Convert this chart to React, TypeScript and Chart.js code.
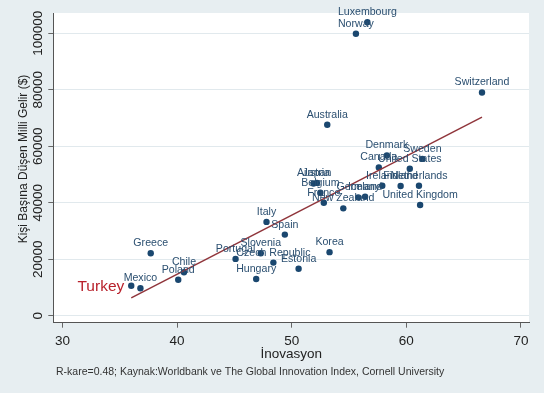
import React, { useEffect, useRef } from 'react';
import { Chart, registerables } from 'chart.js';

Chart.register(...registerables);

const countries = [
  'Luxembourg', 'Norway', 'Switzerland', 'Australia', 'Denmark', 'Sweden', 'Canada', 'United States',
  'Austria', 'Japan', 'Belgium', 'France', 'New Zealand', 'Germany', 'Iceland', 'Ireland', 'Finland',
  'Netherlands', 'United Kingdom', 'Korea', 'Italy', 'Spain', 'Slovenia', 'Czech Republic', 'Estonia',
  'Hungary', 'Portugal', 'Greece', 'Chile', 'Poland', 'Mexico', 'Turkey',
];
const innovation = [
  56.6, 55.6, 66.6, 53.1, 58.3, 61.4, 57.6, 60.3,
  51.9, 52.2, 52.5, 52.8, 54.5, 55.8, 56.4, 57.9, 59.5,
  61.1, 61.2, 53.3, 47.8, 49.4, 47.3, 48.4, 50.6,
  46.9, 45.1, 37.7, 40.6, 40.1, 36.8, 36.0,
];
const gni = [
  103900, 99800, 79000, 67600, 56700, 55500, 52500, 52000,
  46800, 47000, 43500, 40000, 38000, 41900, 42100, 46000, 45900,
  46000, 39200, 22500, 33200, 28700, 22100, 18800, 16600,
  13000, 20100, 22100, 15400, 12700, 9700, 10600,
];
const fitX = [36.0, 66.6];
const fitY = [6300, 70300];
const xTicks = [30, 40, 50, 60, 70];
const yTicks = [0, 20000, 40000, 60000, 80000, 100000];
const xTitle = 'İnovasyon';
const yTitle = 'Kişi Başına Düşen Milli Gelir ($)';
const note = 'R-kare=0.48; Kaynak:Worldbank ve The Global Innovation Index, Cornell University';
const highlight = 'Turkey';

const FONT = '"Liberation Sans", Arial, sans-serif';
const NAVY = '#1a476f';
const MAROON = '#90353b';
const BG = '#e7eef1';

export default function App() {
  const ref = useRef<HTMLCanvasElement>(null);

  useEffect(() => {
    document.body.style.margin = '0';
    const canvas = ref.current;
    if (!canvas) return;

    const custom = {
      id: 'custom',
      beforeDraw(chart: any) {
        const { ctx, chartArea: a } = chart;
        ctx.save();
        ctx.fillStyle = BG;
        ctx.fillRect(0, 0, chart.width, chart.height);
        ctx.fillStyle = '#ffffff';
        ctx.fillRect(a.left, a.top, a.right - a.left, a.bottom - a.top);
        ctx.restore();
      },
      afterDatasetsDraw(chart: any) {
        const { ctx } = chart;
        const xs = chart.scales.x;
        const ys = chart.scales.y;
        ctx.save();
        countries.forEach((c, i) => {
          const px = xs.getPixelForValue(innovation[i]);
          const py = ys.getPixelForValue(gni[i]);
          if (c === highlight) {
            ctx.font = `15.5px ${FONT}`;
            ctx.fillStyle = '#b8212b';
            ctx.textAlign = 'right';
            ctx.textBaseline = 'middle';
            ctx.fillText(c, px - 7, py + 1);
          } else {
            ctx.font = `10.6px ${FONT}`;
            ctx.fillStyle = '#2b4f70';
            ctx.textAlign = 'center';
            ctx.textBaseline = 'middle';
            ctx.fillText(c, px, py - 10);
          }
        });
        ctx.restore();
      },
      afterDraw(chart: any) {
        const { ctx, chartArea: a } = chart;
        const xs = chart.scales.x;
        const ys = chart.scales.y;
        ctx.save();
        ctx.fillStyle = '#222';
        ctx.font = `13.5px ${FONT}`;
        ctx.textAlign = 'center';
        ctx.textBaseline = 'middle';
        xTicks.forEach((v) => {
          ctx.fillText(String(v), xs.getPixelForValue(v), 341.5);
        });
        yTicks.forEach((v) => {
          ctx.save();
          ctx.translate(38.5, ys.getPixelForValue(v));
          ctx.rotate(-Math.PI / 2);
          ctx.fillText(String(v), 0, 0);
          ctx.restore();
        });
        ctx.fillText(xTitle, (a.left + a.right) / 2, 354);
        ctx.save();
        ctx.font = `12px ${FONT}`;
        ctx.translate(23.5, 159);
        ctx.rotate(-Math.PI / 2);
        ctx.fillText(yTitle, 0, 0);
        ctx.restore();
        ctx.font = `10.5px ${FONT}`;
        ctx.fillStyle = '#333';
        ctx.textAlign = 'left';
        ctx.fillText(note, 56, 372);
        ctx.restore();
      },
    };

    const chart = new Chart(canvas, {
      type: 'scatter',
      data: {
        datasets: [
          {
            type: 'line',
            data: fitX.map((x, i) => ({ x, y: fitY[i] })),
            borderColor: MAROON,
            borderWidth: 1.5,
            pointRadius: 0,
            showLine: true,
            fill: false,
          } as any,
          {
            data: innovation.map((x, i) => ({ x, y: gni[i] })),
            backgroundColor: NAVY,
            borderWidth: 0,
            pointRadius: 3.2,
          },
        ],
      },
      options: {
        animation: false,
        responsive: false,
        devicePixelRatio: 1,
        layout: { padding: { top: 13, right: 15, left: 0, bottom: 0 } },
        plugins: { legend: { display: false }, tooltip: { enabled: false } },
        scales: {
          x: {
            type: 'linear',
            min: 29.2,
            max: 70.7,
            afterBuildTicks: (s: any) => {
              s.ticks = xTicks.map((v) => ({ value: v }));
            },
            afterFit: (s: any) => {
              s.height = 70.3;
            },
            ticks: { display: false },
            grid: { drawOnChartArea: false, drawTicks: true, tickLength: 5, tickColor: '#666', color: '#666' },
            border: { color: '#555', width: 1 },
          },
          y: {
            type: 'linear',
            min: -2478,
            max: 107150,
            afterBuildTicks: (s: any) => {
              s.ticks = yTicks.map((v) => ({ value: v }));
            },
            afterFit: (s: any) => {
              s.width = 53.3;
            },
            ticks: { display: false },
            grid: { color: '#e1e9ed', lineWidth: 1, drawTicks: true, tickLength: 5, tickColor: '#666' },
            border: { color: '#555', width: 1 },
          },
        },
      },
      plugins: [custom],
    });

    return () => chart.destroy();
  }, []);

  return (
    <div style={{ position: 'fixed', left: 0, top: 0, width: 544, height: 393 }}>
      <canvas ref={ref} width={544} height={393} />
    </div>
  );
}
